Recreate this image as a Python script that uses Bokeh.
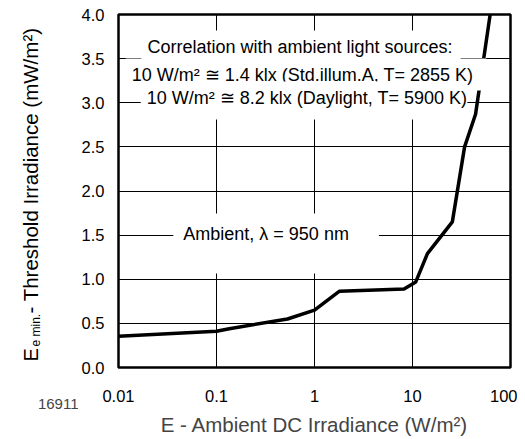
import math
from bokeh.plotting import figure
from bokeh.layouts import row
from bokeh.models import FixedTicker, CustomJSTickFormatter, PrintfTickFormatter, Label, Title
from bokeh.core.properties import value
from bokeh.embed import file_html
from bokeh.resources import INLINE

# ---- data ----
irradiance = [0.01, 0.1, 0.135, 0.53, 1.0, 1.8, 8.2, 10.8, 14.2, 25.5, 34.0, 44.0, 62.0]
threshold = [0.355, 0.41, 0.44, 0.55, 0.65, 0.865, 0.89, 0.97, 1.29, 1.65, 2.5, 2.87, 4.0]
x_ticks = [0.01, 0.1, 1, 10, 100]
y_ticks = [0.0, 0.5, 1.0, 1.5, 2.0, 2.5, 3.0, 3.5, 4.0]

FONT = "Liberation Sans"
W, H = 517, 439
LW = 78  # width of the left strip that holds the y title and figure number

# frame in page pixels (for placing annotations)
FL, FR, FT, FB = 117, 510, 14, 367
def xd(px):
    return 10 ** ((px - FL) / ((FR - FL) / 4.0) - 2)
def yd(py):
    return (FB - py) / ((FB - FT) / 4.0)

p = figure(width=W - LW, height=H, x_axis_type="log", x_range=(0.01, 100), y_range=(0, 4),
           output_backend="svg", toolbar_location=None,
           min_border_left=FL - LW, min_border_right=W - FR,
           min_border_top=FT, min_border_bottom=H - FB)

p.outline_line_color = "black"
p.outline_line_width = 2.5
p.background_fill_color = "white"
p.border_fill_color = "white"

p.xaxis.ticker = FixedTicker(ticks=x_ticks)
p.xaxis.formatter = CustomJSTickFormatter(code="return tick.toString();")
p.yaxis.ticker = FixedTicker(ticks=y_ticks)
p.yaxis.formatter = PrintfTickFormatter(format="%.1f")

for ax in (p.xaxis, p.yaxis):
    ax.axis_line_color = None
    ax.major_tick_line_color = None
    ax.minor_tick_line_color = None
    ax.major_tick_out = 0
    ax.major_tick_in = 0
    ax.major_label_text_font = FONT
    ax.major_label_text_font_size = "16.5px"
    ax.major_label_text_color = "black"

p.xaxis.major_label_standoff = 22
p.yaxis.major_label_standoff = 14

p.xaxis.axis_label = "E - Ambient DC Irradiance (W/m²)"
p.xaxis.axis_label_text_font = FONT
p.xaxis.axis_label_text_font_size = "20.5px"
p.xaxis.axis_label_text_font_style = "normal"
p.xaxis.axis_label_standoff = 8

p.xgrid.ticker = FixedTicker(ticks=x_ticks)
p.ygrid.ticker = FixedTicker(ticks=y_ticks)
for g in (p.xgrid, p.ygrid):
    g.grid_line_color = "black"
    g.grid_line_width = 1
    g.grid_line_alpha = 1

p.line(irradiance, threshold, line_color="black", line_width=3.5, line_join="round")

def note(text, px, py, pad):
    lab = Label(x=xd(px), y=yd(py), text=text, text_align="center", text_baseline="middle",
                text_font=FONT, text_font_size="18px", text_color="black",
                background_fill_color="white", padding=pad)
    p.add_layout(lab)

note("Correlation with ambient light sources:", 300, 47, (6, 8, 6, 8))
note("10 W/m² ≅ 1.4 klx (Std.illum.A, T= 2855 K)", 305, 74, (6, 13, 6, 6))
note("10 W/m² ≅ 8.2 klx (Daylight, T= 5900 K)", 303, 100, (6, 0, 6, 12))
note("Ambient, λ = 950 nm", 275, 243, (10, 30, 10, 30))

# left strip: y-axis title (with subscript) and the figure number.
# Its frame has the same vertical extent as the main frame.
s = figure(width=LW, height=H, x_range=(0, LW), y_range=(0, FB - FT),
           output_backend="svg", toolbar_location=None,
           x_axis_location=None, y_axis_location=None,
           min_border_left=0, min_border_right=0, min_border_top=FT, min_border_bottom=H - FB)
s.outline_line_color = None
s.grid.visible = False
s.background_fill_color = "white"
s.border_fill_color = "white"

def side(text, px, py, size, angle=0.0):
    s.text(x=[px], y=[FB - py], text=[text], angle=angle, text_align="left",
           text_baseline="alphabetic", text_font=value(FONT), text_font_size=size,
           text_color="black")

side("E", 30, 361, "20px", math.pi / 2)
side("e min.", 35, 346, "12px", math.pi / 2)
side(" - Threshold Irradiance (mW/m²)", 30, 313, "20.5px", math.pi / 2)

s.add_layout(Title(text="16911", align="right", text_font=FONT, text_font_size="15px",
                   text_font_style="normal", standoff=58), "below")

layout = row(s, p, spacing=0)
open("out.html", "w").write(file_html(layout, INLINE))
